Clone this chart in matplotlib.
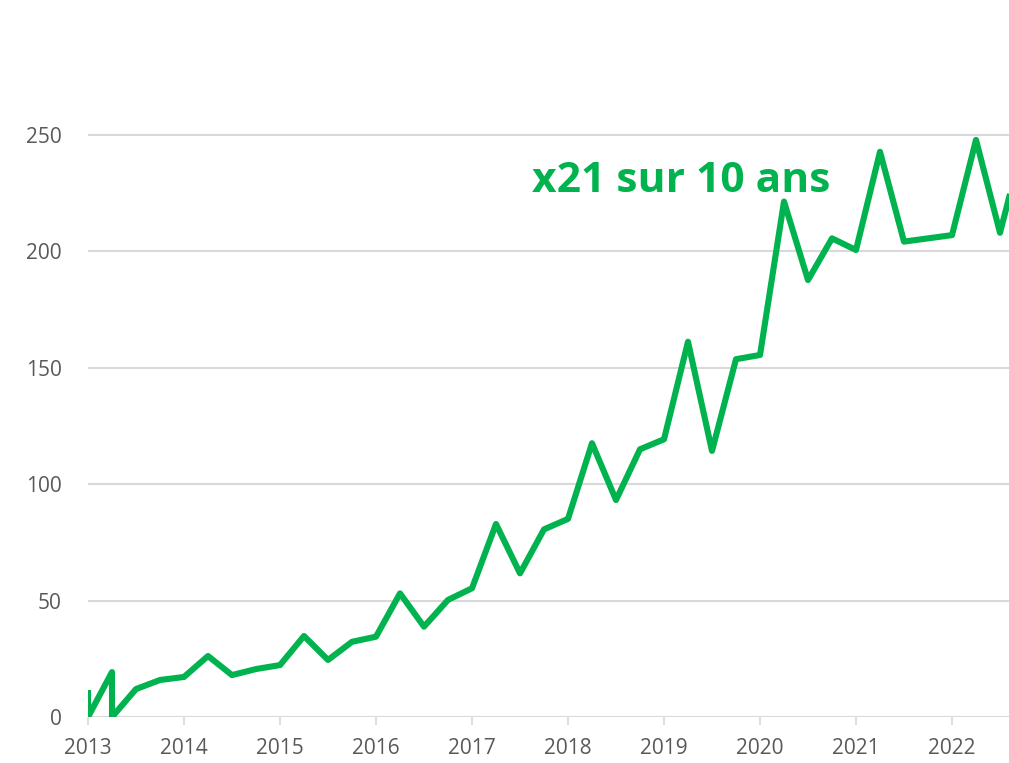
import matplotlib
matplotlib.use('Agg')
import matplotlib.pyplot as plt

plt.rcParams['font.family'] = ['Open Sans', 'DejaVu Sans']

# quarterly positions (years as decimals); 2013 has duplicated x for the drops to 0
quarters = [2013.0, 2013.0, 2013.25, 2013.25, 2013.5, 2013.75,
            2014.0, 2014.25, 2014.5, 2014.75,
            2015.0, 2015.25, 2015.5, 2015.75,
            2016.0, 2016.25, 2016.5, 2016.75,
            2017.0, 2017.25, 2017.5, 2017.75,
            2018.0, 2018.25, 2018.5, 2018.75,
            2019.0, 2019.25, 2019.5, 2019.75,
            2020.0, 2020.25, 2020.5, 2020.75,
            2021.0, 2021.25, 2021.5, 2021.75,
            2022.0, 2022.25, 2022.5, 2022.75]
values = [11.6, 0, 19.3, 0, 12.0, 15.9,
          17.2, 26.2, 18.0, 20.6,
          22.3, 34.8, 24.5, 32.3,
          34.5, 53.1, 38.8, 50.3,
          55.3, 82.9, 61.7, 80.6,
          85.1, 117.6, 93.2, 115.0,
          119.3, 161.2, 114.3, 153.7,
          155.5, 221.4, 187.7, 205.6,
          200.6, 242.8, 204.2, 205.6,
          207.0, 247.9, 208.0, 248.0]

year_ticks = list(range(2013, 2023))
y_ticks = [0, 50, 100, 150, 200, 250]
annotation = 'x21 sur 10 ans'

GREEN = '#00b34f'
GRID = '#d9d9d9'
LABEL = '#595959'

fig = plt.figure(figsize=(10.09, 7.63), dpi=100, facecolor='white')
# axes: left at x=88px, bottom at y=717px, 2.328 px per unit
ymax = 260
top_px = 717 - ymax * 2.328
ax = fig.add_axes([88 / 1009, 46 / 763, 921 / 1009, (717 - top_px) / 763])

ax.plot(quarters, values, color=GREEN, lw=4.4, solid_joinstyle='round',
        solid_capstyle='butt', zorder=3)

ax.set_xlim(2013, 2013 + 921 / 96)
ax.set_ylim(0, ymax)

ax.set_yticks(y_ticks)
ax.set_xticks(year_ticks)
ax.set_xticklabels([str(y) for y in year_ticks])
for y in y_ticks:
    ax.axhline(y, color=GRID, lw=1.5, zorder=1)

for s in ax.spines.values():
    s.set_visible(False)

ax.tick_params(axis='y', length=0, pad=19, labelsize=15, labelcolor=LABEL)
ax.tick_params(axis='x', length=6, width=1.2, color=GRID, pad=9,
               labelsize=15, labelcolor=LABEL)

ax.text(2013 + (532 - 88) / 96, (717 - 192) / 2.328, annotation,
        color=GREEN, fontsize=30.6, fontweight='bold', va='baseline', ha='left')

fig.savefig('out.png', dpi=100, facecolor='white')
